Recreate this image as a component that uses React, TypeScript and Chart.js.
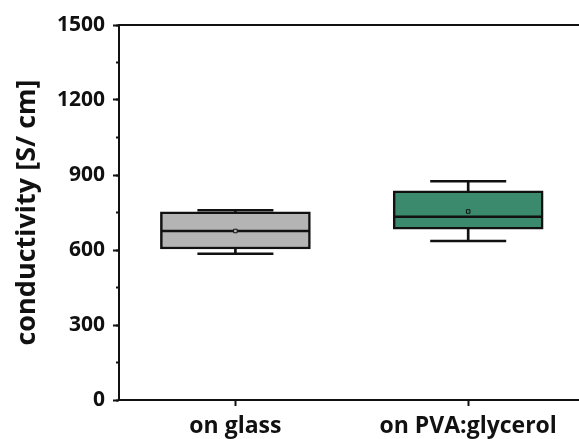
import React, { useEffect, useRef } from 'react';
import { Chart, registerables } from 'chart.js';

Chart.register(...registerables);

const categories = ['on glass', 'on PVA:glycerol'];
const minValues = [585, 636];
const q1Values = [604, 683];
const medianValues = [676, 733];
const q3Values = [753, 837];
const maxValues = [759, 875];
const meanValues = [676, 754];
const boxColors = ['#b4b4b4', '#3b8a6d'];
const yMajorTicks = [0, 300, 600, 900, 1200, 1500];
const yMinorTicks = [0, 150, 300, 450, 600, 750, 900, 1050, 1200, 1350, 1500];

const FONT = "'Open Sans', 'Noto Sans', sans-serif";

export default function App() {
  const canvasRef = useRef<HTMLCanvasElement | null>(null);

  useEffect(() => {
    document.body.style.margin = '0';
    const canvas = canvasRef.current;
    if (!canvas) return;

    const idx = categories.map((_, i) => i);

    const chart = new Chart(canvas, {
      type: 'bar',
      data: {
        datasets: [
          {
            type: 'bar',
            data: idx.map((i) => ({ x: i, y: [q3Values[i], maxValues[i]] })),
            backgroundColor: '#111',
            borderWidth: 0,
            barThickness: 2,
            grouped: false,
            order: 5,
          } as any,
          {
            type: 'bar',
            data: idx.map((i) => ({ x: i, y: [minValues[i], q1Values[i]] })),
            backgroundColor: '#111',
            borderWidth: 0,
            barThickness: 2,
            grouped: false,
            order: 5,
          } as any,
          {
            type: 'bar',
            data: idx.map((i) => ({ x: i, y: [q1Values[i], q3Values[i]] })),
            backgroundColor: boxColors,
            borderColor: '#111',
            borderWidth: 2.5,
            borderSkipped: false,
            barThickness: 150,
            grouped: false,
            order: 4,
          } as any,
          {
            type: 'line',
            data: idx.map((i) => ({ x: i, y: medianValues[i] })),
            showLine: false,
            pointStyle: 'line',
            pointRadius: 74,
            pointBorderWidth: 2.5,
            pointBorderColor: '#111',
            order: 3,
          } as any,
          {
            type: 'line',
            data: idx.map((i) => ({ x: i, y: maxValues[i] })),
            showLine: false,
            pointStyle: 'line',
            pointRadius: 38,
            pointBorderWidth: 2.5,
            pointBorderColor: '#111',
            order: 2,
          } as any,
          {
            type: 'line',
            data: idx.map((i) => ({ x: i, y: minValues[i] })),
            showLine: false,
            pointStyle: 'line',
            pointRadius: 38,
            pointBorderWidth: 2.5,
            pointBorderColor: '#111',
            order: 2,
          } as any,
          {
            type: 'line',
            data: idx.map((i) => ({ x: i, y: meanValues[i] })),
            showLine: false,
            pointStyle: 'rect',
            pointRadius: 2.5,
            pointBorderWidth: 1,
            pointBorderColor: '#111',
            pointBackgroundColor: boxColors,
            order: 1,
          } as any,
        ],
      },
      options: {
        animation: false,
        responsive: true,
        maintainAspectRatio: false,
        layout: { autoPadding: false, padding: { top: 25, right: 0, bottom: 0, left: 0 } },
        plugins: { legend: { display: false }, tooltip: { enabled: false } },
        scales: {
          x: {
            type: 'linear',
            position: 'bottom',
            min: -0.5,
            max: 1.476,
            offset: false,
            afterBuildTicks: (s: any) => {
              s.ticks = idx.map((v) => ({ value: v }));
            },
            afterFit: (s: any) => {
              s.height = 39;
            },
            ticks: {
              callback: (v: any) => categories[v as number] ?? '',
              font: { family: FONT, size: 23, weight: 'bold' },
              color: '#111',
              padding: 7,
              maxRotation: 0,
              autoSkip: false,
            },
            grid: {
              display: true,
              drawOnChartArea: false,
              drawTicks: true,
              tickLength: 6,
              tickWidth: 2,
              color: '#111',
              offset: false,
            },
            border: { display: true, color: '#111', width: 2 },
          } as any,
          x2: {
            type: 'linear',
            position: 'top',
            min: -0.5,
            max: 1.476,
            offset: false,
            afterFit: (s: any) => {
              s.height = 0;
            },
            ticks: { display: false },
            grid: { display: false, drawTicks: false },
            border: { display: true, color: '#111', width: 2 },
          } as any,
          y: {
            type: 'linear',
            position: 'left',
            min: 0,
            max: 1500,
            weight: 1,
            afterBuildTicks: (s: any) => {
              s.ticks = yMajorTicks.map((v) => ({ value: v }));
            },
            afterFit: (s: any) => {
              s.width = 119;
            },
            ticks: {
              callback: (v: any) => String(v),
              font: { family: FONT, size: 21, weight: 'bold' },
              color: '#111',
              padding: 8,
            },
            grid: {
              display: true,
              drawOnChartArea: false,
              drawTicks: true,
              tickLength: 6,
              tickWidth: 2,
              color: '#111',
            },
            border: { display: true, color: '#111', width: 2 },
            title: {
              display: true,
              text: 'conductivity [S/ cm]',
              font: { family: FONT, size: 27, weight: 'bold' },
              color: '#111',
              padding: { top: 11, bottom: 0 },
            },
          } as any,
          y2: {
            type: 'linear',
            position: 'left',
            min: 0,
            max: 1500,
            weight: 0,
            afterBuildTicks: (s: any) => {
              s.ticks = yMinorTicks.map((v) => ({ value: v }));
            },
            afterFit: (s: any) => {
              s.width = 0;
            },
            ticks: { display: false },
            grid: {
              display: true,
              drawOnChartArea: false,
              drawTicks: true,
              tickLength: 3,
              tickWidth: 2,
              color: '#111',
            },
            border: { display: false },
          } as any,
        },
      } as any,
    });

    return () => chart.destroy();
  }, []);

  return (
    <div style={{ position: 'relative', width: 579, height: 439 }}>
      <canvas ref={canvasRef} />
    </div>
  );
}
